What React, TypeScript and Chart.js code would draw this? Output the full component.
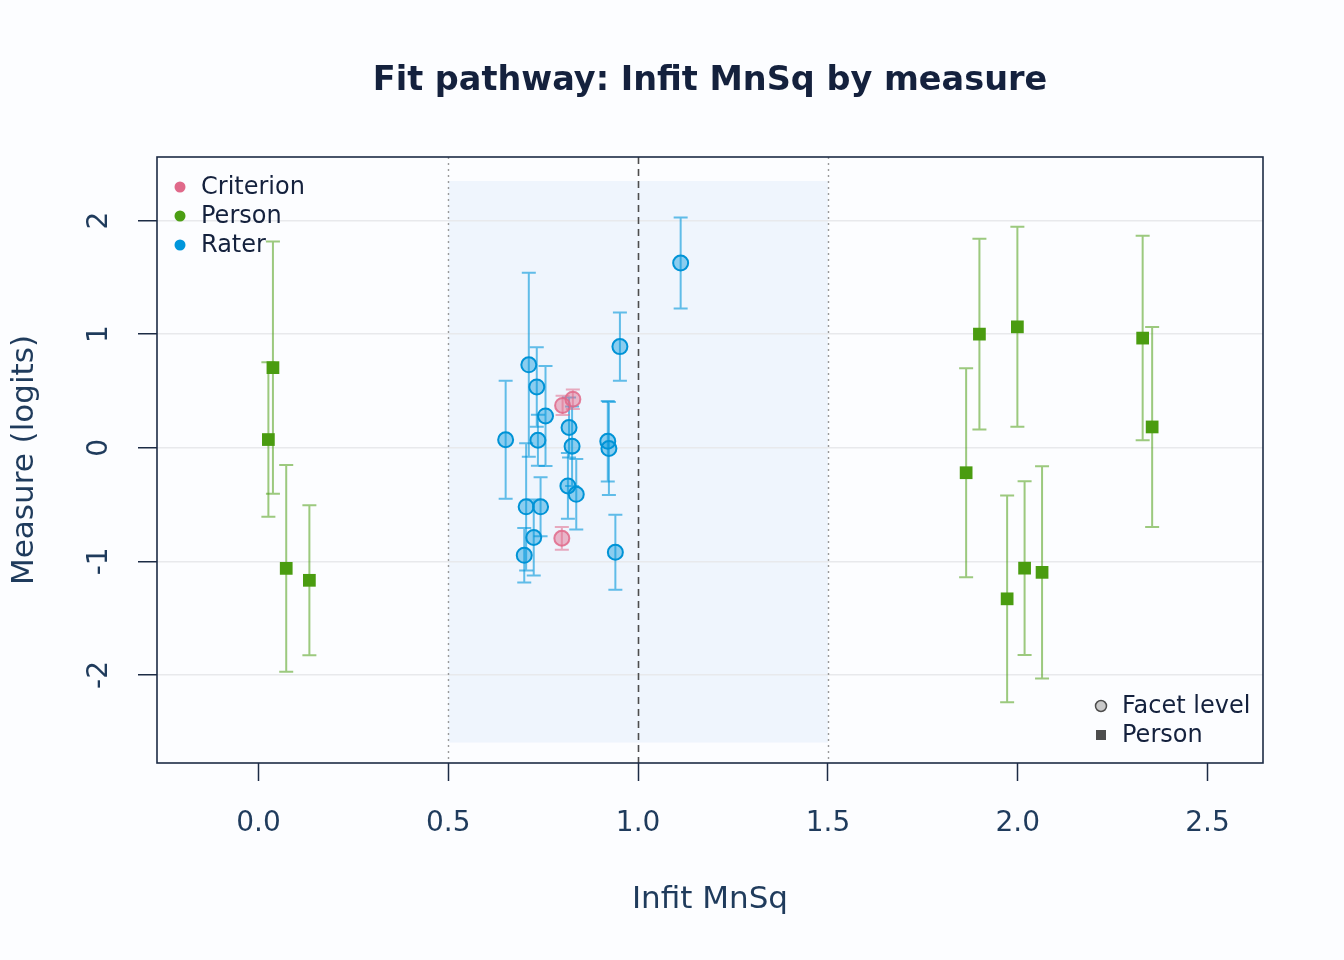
import React, { useEffect, useRef } from 'react';
import { Chart, registerables } from 'chart.js';

Chart.register(...registerables);

// Infit MnSq (x) and measure in logits (y) with standard errors
const criterionInfit = [0.801, 0.828, 0.799];
const criterionMeasure = [0.372, 0.427, -0.797];
const criterionSE = [0.085, 0.085, 0.1];

const personInfit = [0.038, 0.026, 0.073, 0.134, 1.864, 1.899, 1.999, 1.972, 2.018, 2.064, 2.329, 2.354];
const personMeasure = [0.705, 0.072, -1.062, -1.167, -0.22, 1.0, 1.064, -1.33, -1.06, -1.097, 0.965, 0.183];
const personSE = [1.11, 0.68, 0.91, 0.66, 0.92, 0.84, 0.88, 0.91, 0.765, 0.935, 0.9, 0.88];

const raterInfit = [0.651, 0.712, 0.733, 0.736, 0.756, 0.818, 0.826, 0.815, 0.837, 0.92, 0.923, 0.952, 0.94, 0.705, 0.743, 0.725, 0.7, 1.112];
const raterMeasure = [0.07, 0.73, 0.535, 0.066, 0.28, 0.178, 0.013, -0.336, -0.41, 0.057, -0.007, 0.89, -0.92, -0.52, -0.52, -0.79, -0.947, 1.626];
const raterSE = [0.52, 0.81, 0.35, 0.225, 0.44, 0.265, 0.35, 0.29, 0.31, 0.355, 0.41, 0.3, 0.33, 0.56, 0.26, 0.335, 0.24, 0.4];

const xTicks = [0, 0.5, 1, 1.5, 2, 2.5];
const yTicks = [-2, -1, 0, 1, 2];
const refLines = [0.5, 1.0, 1.5];
const bandX = [0.5, 1.5];
const bandY = [-2.595, 2.348];

const FONT = '"DejaVu Sans", sans-serif';
const INK = '#14213d';
const AXIS_TEXT = '#1f3b5c';
const FRAME = '#1c2b45';

const COLORS = {
  criterion: '#e0698a',
  person: '#4c9e14',
  rater: '#0096db',
};

const toPoints = (xs: number[], ys: number[]) => xs.map((v, i) => ({ x: v, y: ys[i] }));

const errorSeries = [
  { xs: personInfit, ys: personMeasure, se: personSE, color: 'rgba(76,158,20,0.55)' },
  { xs: raterInfit, ys: raterMeasure, se: raterSE, color: 'rgba(0,150,219,0.6)' },
  { xs: criterionInfit, ys: criterionMeasure, se: criterionSE, color: 'rgba(224,105,138,0.55)' },
];

const decorPlugin = {
  id: 'decor',
  beforeDraw(chart: any) {
    const { ctx, scales } = chart;
    const { x, y } = scales;
    ctx.save();
    ctx.fillStyle = '#fcfdff';
    ctx.fillRect(0, 0, chart.width, chart.height);
    // acceptable-fit band
    const x0 = x.getPixelForValue(bandX[0]);
    const x1 = x.getPixelForValue(bandX[1]);
    const y0 = y.getPixelForValue(bandY[1]);
    const y1 = y.getPixelForValue(bandY[0]);
    ctx.fillStyle = '#eff5fd';
    ctx.fillRect(x0, y0, x1 - x0, y1 - y0);
    ctx.restore();
  },
  beforeDatasetsDraw(chart: any) {
    const { ctx, chartArea, scales } = chart;
    const { x, y } = scales;
    ctx.save();
    // reference lines at 0.5, 1.0, 1.5
    refLines.forEach((v) => {
      const px = Math.round(x.getPixelForValue(v)) + 0.5;
      ctx.beginPath();
      if (v === 1) {
        ctx.setLineDash([7, 5]);
        ctx.strokeStyle = '#4d4d4d';
        ctx.lineWidth = 1.6;
      } else {
        ctx.setLineDash([2, 4]);
        ctx.strokeStyle = '#9a9a9a';
        ctx.lineWidth = 1.4;
      }
      ctx.moveTo(px, chartArea.top);
      ctx.lineTo(px, chartArea.bottom);
      ctx.stroke();
    });
    ctx.setLineDash([]);
    // error bars
    errorSeries.forEach((s) => {
      ctx.strokeStyle = s.color;
      ctx.lineWidth = 2;
      s.xs.forEach((xv, i) => {
        const px = x.getPixelForValue(xv);
        const top = y.getPixelForValue(s.ys[i] + s.se[i]);
        const bot = y.getPixelForValue(s.ys[i] - s.se[i]);
        ctx.beginPath();
        ctx.moveTo(px, top);
        ctx.lineTo(px, bot);
        ctx.moveTo(px - 7, top);
        ctx.lineTo(px + 7, top);
        ctx.moveTo(px - 7, bot);
        ctx.lineTo(px + 7, bot);
        ctx.stroke();
      });
    });
    ctx.restore();
  },
  afterDraw(chart: any) {
    const { ctx, chartArea, scales } = chart;
    const { x, y } = scales;
    ctx.save();
    // frame
    ctx.strokeStyle = FRAME;
    ctx.lineWidth = 1.6;
    ctx.strokeRect(chartArea.left, chartArea.top, chartArea.right - chartArea.left, chartArea.bottom - chartArea.top);

    // tick labels
    ctx.fillStyle = AXIS_TEXT;
    ctx.font = `28px ${FONT}`;
    ctx.textAlign = 'center';
    ctx.textBaseline = 'middle';
    xTicks.forEach((v) => {
      ctx.fillText(v.toFixed(1), x.getPixelForValue(v), chartArea.bottom + 61);
    });
    yTicks.forEach((v) => {
      ctx.save();
      ctx.translate(chartArea.left - 57, y.getPixelForValue(v));
      ctx.rotate(-Math.PI / 2);
      ctx.fillText(String(v), 0, 0);
      ctx.restore();
    });

    // axis titles
    const midX = (chartArea.left + chartArea.right) / 2;
    const midY = (chartArea.top + chartArea.bottom) / 2;
    ctx.font = `31px ${FONT}`;
    ctx.fillText('Infit MnSq', midX, 900);
    ctx.save();
    ctx.translate(25, midY);
    ctx.rotate(-Math.PI / 2);
    ctx.fillText('Measure (logits)', 0, 0);
    ctx.restore();

    // main title
    ctx.fillStyle = INK;
    ctx.font = `bold 33.5px ${FONT}`;
    ctx.fillText('Fit pathway: Infit MnSq by measure', midX, 81);

    // facet legend (top left)
    const legendItems = [
      { label: 'Criterion', color: COLORS.criterion },
      { label: 'Person', color: COLORS.person },
      { label: 'Rater', color: COLORS.rater },
    ];
    ctx.font = `24px ${FONT}`;
    ctx.textAlign = 'left';
    legendItems.forEach((it, i) => {
      const ly = chartArea.top + 30 + i * 29;
      ctx.fillStyle = it.color;
      ctx.beginPath();
      ctx.arc(chartArea.left + 23, ly, 5.5, 0, Math.PI * 2);
      ctx.fill();
      ctx.fillStyle = INK;
      ctx.fillText(it.label, chartArea.left + 44, ly + 1);
    });

    // shape legend (bottom right)
    const sx = chartArea.right - 162;
    const sy1 = chartArea.bottom - 57;
    const sy2 = chartArea.bottom - 28;
    ctx.beginPath();
    ctx.arc(sx, sy1, 5.5, 0, Math.PI * 2);
    ctx.fillStyle = '#c9c9c9';
    ctx.fill();
    ctx.strokeStyle = '#4d4d4d';
    ctx.lineWidth = 1.5;
    ctx.stroke();
    ctx.fillStyle = '#4d4d4d';
    ctx.fillRect(sx - 5, sy2 - 5, 10, 10);
    ctx.fillStyle = INK;
    ctx.fillText('Facet level', sx + 21, sy1 + 1);
    ctx.fillText('Person', sx + 21, sy2 + 1);
    ctx.restore();
  },
};

const App = () => {
  const canvasRef = useRef<HTMLCanvasElement>(null);
  const chartRef = useRef<Chart | null>(null);

  useEffect(() => {
    const ctx = canvasRef.current?.getContext('2d');
    if (!ctx) return;
    if (chartRef.current) chartRef.current.destroy();

    chartRef.current = new Chart(ctx, {
      type: 'scatter',
      data: {
        datasets: [
          {
            label: 'Person',
            data: toPoints(personInfit, personMeasure),
            pointStyle: 'rect',
            pointRadius: 9,
            backgroundColor: '#4a9c10',
            borderWidth: 0,
          },
          {
            label: 'Rater',
            data: toPoints(raterInfit, raterMeasure),
            pointStyle: 'circle',
            pointRadius: 7.5,
            backgroundColor: 'rgba(0,150,219,0.42)',
            borderColor: '#0093d6',
            borderWidth: 2,
          },
          {
            label: 'Criterion',
            data: toPoints(criterionInfit, criterionMeasure),
            pointStyle: 'circle',
            pointRadius: 7.5,
            backgroundColor: 'rgba(224,105,138,0.45)',
            borderColor: 'rgba(224,105,138,0.85)',
            borderWidth: 2,
          },
        ],
      },
      options: {
        animation: false,
        responsive: true,
        maintainAspectRatio: false,
        events: [],
        layout: { padding: { top: 157, right: 81, bottom: 0, left: 0 } },
        plugins: {
          legend: { display: false },
          tooltip: { enabled: false },
          title: { display: false },
        },
        scales: {
          x: {
            type: 'linear',
            min: -0.2674,
            max: 2.646,
            afterFit: (scale: any) => {
              scale.height = 197;
            },
            afterBuildTicks: (scale: any) => {
              scale.ticks = xTicks.map((v) => ({ value: v }));
            },
            ticks: { color: 'rgba(0,0,0,0)', autoSkip: false, maxRotation: 0, includeBounds: false },
            grid: {
              drawOnChartArea: false,
              drawTicks: true,
              tickLength: 18,
              tickColor: FRAME,
              tickWidth: 1.5,
            },
            border: { display: false },
          },
          y: {
            type: 'linear',
            min: -2.775,
            max: 2.559,
            afterFit: (scale: any) => {
              scale.width = 157;
            },
            afterBuildTicks: (scale: any) => {
              scale.ticks = yTicks.map((v) => ({ value: v }));
            },
            ticks: { color: 'rgba(0,0,0,0)', autoSkip: false, includeBounds: false },
            grid: {
              color: '#e8e9ec',
              lineWidth: 1.5,
              drawTicks: true,
              tickLength: 19,
              tickColor: FRAME,
              tickWidth: 1.5,
            },
            border: { display: false },
          },
        },
      },
      plugins: [decorPlugin],
    });

    return () => {
      if (chartRef.current) {
        chartRef.current.destroy();
        chartRef.current = null;
      }
    };
  }, []);

  return (
    <div style={{ position: 'fixed', left: 0, top: 0, width: 1344, height: 960, background: '#fcfdff' }}>
      <canvas ref={canvasRef}></canvas>
    </div>
  );
};

export default App;
